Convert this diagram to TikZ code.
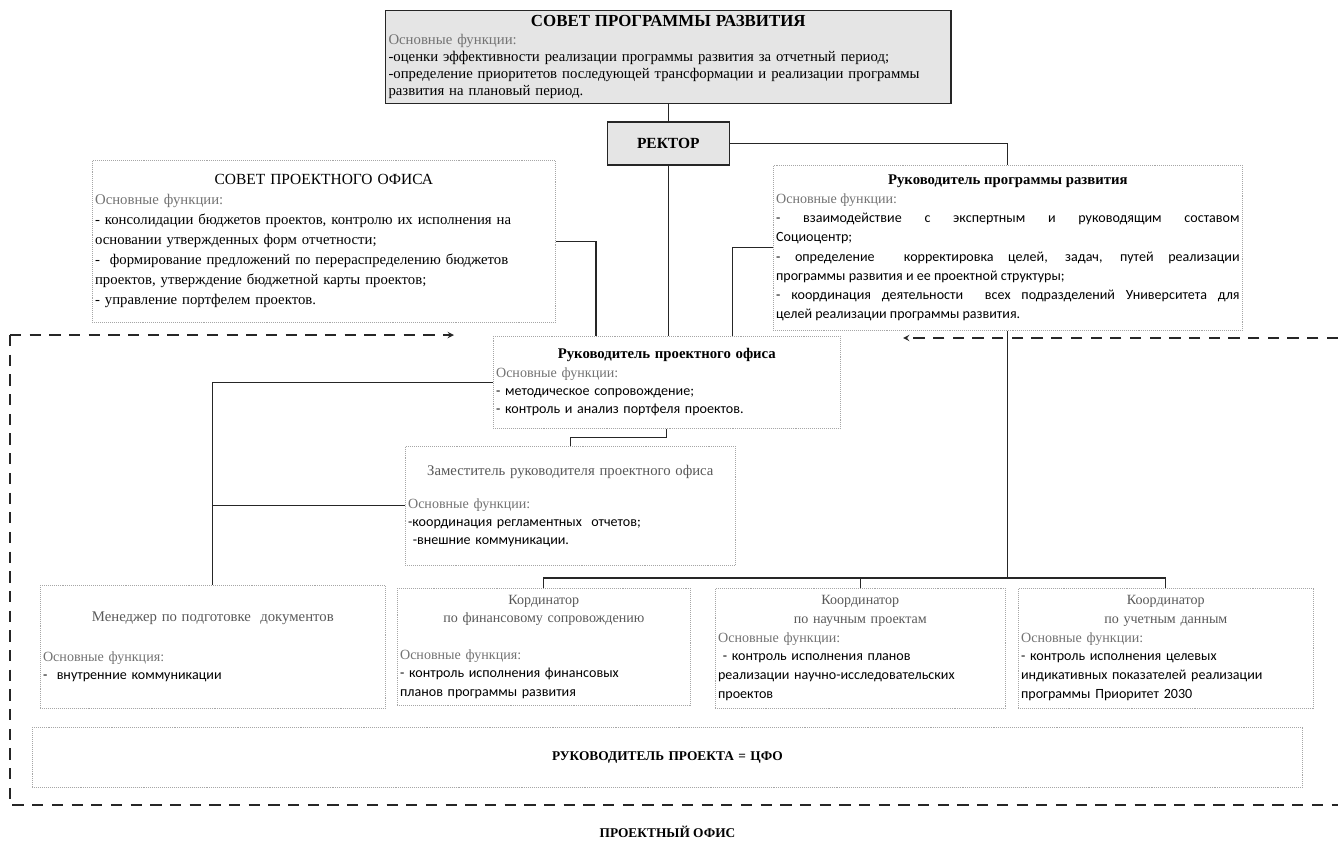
\documentclass[tikz,border=0pt]{standalone}
\usepackage{fontspec}
\setmainfont{Liberation Serif}
\newfontfamily\calib{Carlito}
\usepackage{tikz}
\usetikzlibrary{positioning,calc}
\tikzset{%
  card/.style = {draw=gray!70, densely dotted, anchor=north west,
        inner xsep=2pt, inner ysep=2pt, align=left},
  greycard/.style = {draw=black!85, solid, line width=1pt, fill=gray!20,
        anchor=north west, inner xsep=2pt, inner ysep=2pt},
  dims/.style 2 args = {text width={#1-4pt}, minimum height=#2},
  link/.style = {draw=black!85, solid, line width=0.8pt},
  officedash/.style = {draw=black!85, line width=1pt, dash pattern=on 8pt off 6pt},
  officeedge/.style = {officedash, -stealth}
}
\newcommand{\funcs}[1]{{\rmfamily\color{black!55}#1}}

\begin{document}
\begin{tikzpicture}[x=0.025cm, y=-0.025cm]
\useasboundingbox (0,0) rectangle (1338,842);

% upper level
\node[greycard, dims={14.125cm}{2.325cm}, align=left,
      font=\fontsize{10.5}{12.2}\selectfont] (council) at (385,10) {%
  {\centering\bfseries\fontsize{12}{14}\selectfont СОВЕТ ПРОГРАММЫ РАЗВИТИЯ\par}
  \funcs{Основные функции:}\par
  -оценки эффективности реализации программы развития за отчетный период;\par
  -определение приоритетов последующей трансформации и реализации программы\par
  развития на плановый период.};
\node[greycard, below=0.425cm of council, minimum width=3.05cm, minimum height=1.075cm,
      font=\bfseries\fontsize{11}{13}\selectfont] (rector) {РЕКТОР};

\node[card, dims={11.575cm}{4.05cm}, font=\fontsize{10.5}{14.2}\selectfont] (pocouncil) at (92,160) {%
  {\centering\fontsize{11}{14}\selectfont СОВЕТ ПРОЕКТНОГО ОФИСА\par}
  \funcs{Основные функции:}\par
  - консолидации бюджетов проектов, контролю их исполнения на\par
  основании утвержденных форм отчетности;\par
  - \ формирование предложений по перераспределению бюджетов\par
  проектов, утверждение бюджетной карты проектов;\par
  - управление портфелем проектов.};

\node[card, dims={11.725cm}{4.125cm}, align=justify,
      font=\calib\fontsize{10}{13.6}\selectfont] (proghead) at (773,165) {%
  {\centering\rmfamily\bfseries\fontsize{10.5}{13}\selectfont Руководитель программы развития\par}
  \funcs{Основные функции:}\par
  - взаимодействие с экспертным и руководящим составом\linebreak Социоцентр;\par
  - определение \ корректировка целей, задач, путей реализации\linebreak программы развития и ее проектной структуры;\par
  - координация деятельности \ всех подразделений Университета для\linebreak целей реализации программы развития.\par};

% project office
\node[card, dims={8.675cm}{2.3cm}, font=\calib\fontsize{10}{13}\selectfont] (pohead) at (493,336) {%
  {\centering\rmfamily\bfseries\fontsize{10.5}{13}\selectfont Руководитель проектного офиса\par}
  \funcs{Основные функции:}\par
  - методическое сопровождение;\par
  - контроль и анализ портфеля проектов.};

\node[card, dims={8.25cm}{2.975cm}, font=\calib\fontsize{10}{12.6}\selectfont] (deputy) at (405,446) {%
  {\centering\rmfamily\color{black!65}\fontsize{10.5}{13}\selectfont Заместитель руководителя проектного офиса\par}
  \vspace{11pt}
  \funcs{Основные функции:}\par
  -координация регламентных \ отчетов;\par
  \ -внешние коммуникации.};

\node[card, dims={8.625cm}{3.075cm}, font=\calib\fontsize{10}{12.8}\selectfont] (manager) at (40,585) {%
  {\centering\rmfamily\color{black!65}\fontsize{10.5}{13}\selectfont Менеджер по подготовке \ документов\par}
  \vspace{15pt}
  \funcs{Основные функция:}\par
  - \ внутренние коммуникации};

\node[card, dims={7.325cm}{2.925cm}, font=\calib\fontsize{10}{13.2}\selectfont] (coordfin) at (397,588) {%
  {\centering\rmfamily\color{black!65}\fontsize{10}{13}\selectfont Кординатор\par по финансовому сопровождению\par}
  \vspace{13pt}
  \funcs{Основные функция:}\par
  - контроль исполнения финансовых\par
  планов программы развития};

\node[card, dims={7.25cm}{3cm}, font=\calib\fontsize{10}{13.4}\selectfont] (coordsci) at (715,588) {%
  {\centering\rmfamily\color{black!65}\fontsize{10}{13}\selectfont Координатор\par по научным проектам\par}
  \funcs{Основные функции:}\par
  \ - контроль исполнения планов\par
  реализации научно-исследовательских\par
  проектов};

\node[card, dims={7.375cm}{3cm}, font=\calib\fontsize{10}{13.4}\selectfont] (coorddata) at (1018,588) {%
  {\centering\rmfamily\color{black!65}\fontsize{10}{13}\selectfont Координатор\par по учетным данным\par}
  \funcs{Основные функции:}\par
  - контроль исполнения целевых\par
  индикативных показателей реализации\par
  программы Приоритет 2030};

\node[card, dims={31.75cm}{1.5cm}, align=center,
      font=\bfseries\fontsize{9.5}{11}\selectfont] (leadbar) at (32,727) {РУКОВОДИТЕЛЬ ПРОЕКТА = ЦФО};
\node[below=0.85cm of leadbar, font=\bfseries\fontsize{9.5}{11}\selectfont] (officename) {ПРОЕКТНЫЙ ОФИС};

% connectors
\draw[link] (council.south) -- (rector.north);
\draw[link] (rector.south) -- (rector.south |- pohead.north);
\draw[link] (rector.east) -| (proghead.north);
\draw[link] (pocouncil.east) -| ($(pohead.north west)+(103,0)$);
\draw[link] (proghead.west) -| ($(pohead.north east)+(-108,0)$);
\draw[link] (pohead.west) -| (manager.north);
\draw[link] (deputy.west) -- (deputy.west -| manager.north);
\draw[link] (pohead.south) -- ++(0,9) -| (deputy.north);
\coordinate (bus) at ($(proghead.south)+(0,248)$);
\draw[link] (proghead.south) -- (bus);
\draw[link] (coordfin.north) -- ++(0,-10) -| (coorddata.north);
\draw[link] (coordsci.north) -- (coordsci.north |- bus);

% project office frame
\coordinate (frameNW) at (10,335);
\coordinate (frameSW) at (10,805);
\coordinate (frameSE) at (1338,805);
\coordinate (frameNE) at (1338,338);
\coordinate (leftin) at (454,335);
\coordinate (rightin) at (903,338);
\draw[officedash] (frameNW) -- (frameSW) -- (frameSE);
\draw[officeedge] (frameNW) -- (leftin);
\draw[officeedge] (frameNE) -- (rightin);
\end{tikzpicture}
\end{document}
